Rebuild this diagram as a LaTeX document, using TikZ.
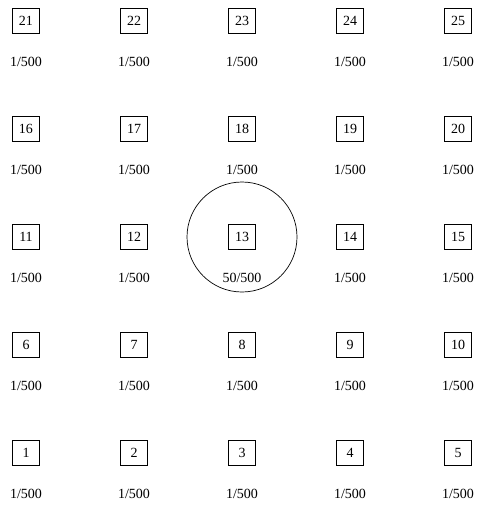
\documentclass[tikz,border=0pt]{standalone}
\usepackage{fontspec}
\setmainfont{Liberation Serif}
\begin{document}
\begin{tikzpicture}[x=1pt,y=-1pt,
  cell/.style={draw,line width=0.7pt,minimum width=27pt,minimum height=25pt,inner sep=0pt,font=\fontsize{14}{16}\selectfont},
  prob/.style={inner sep=0pt,font=\fontsize{14}{16}\selectfont}]
\useasboundingbox (0,0) rectangle (477,506);
\foreach \r in {0,...,4}{
  \foreach \c in {0,...,4}{
    \pgfmathtruncatemacro{\n}{\r*5+\c+1}
    \pgfmathsetmacro{\xx}{26+108*\c}
    \pgfmathsetmacro{\yy}{453-108*\r}
    \node[cell] (b\n) at (\xx,\yy) {\n};
    \ifnum\n=13
      \node[prob] (p\n) at (\xx,\yy+41) {50/500};
    \else
      \node[prob] (p\n) at (\xx,\yy+41) {1/500};
    \fi
  }
}
\draw[line width=0.7pt] (b13.center) circle (55);
\end{tikzpicture}
\end{document}
